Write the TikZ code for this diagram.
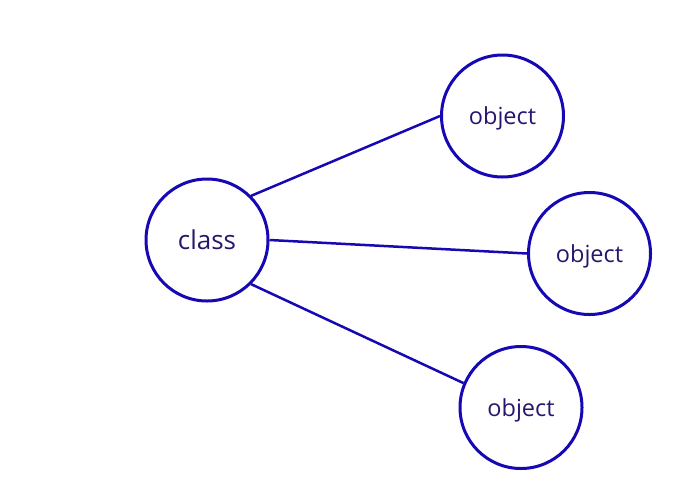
\documentclass[tikz,border=0pt]{standalone}
\usepackage{fontspec}
\setmainfont{Open Sans}
\definecolor{strokeblue}{RGB}{22,8,178}
\definecolor{textnavy}{RGB}{40,22,110}
\begin{document}
\begin{tikzpicture}[x=1pt,y=-1pt,
  bubble/.style={circle,draw=strokeblue,line width=3pt,minimum size=122pt,inner sep=0pt,text=textnavy,text depth=0pt},
  link/.style={draw=strokeblue,line width=2.5pt}]
\useasboundingbox (0,0) rectangle (684,493);
\node[bubble,font=\fontsize{26}{30}\selectfont] (cls) at (207,240) {class};
\node[bubble,font=\fontsize{23.5}{27}\selectfont] (o1) at (502.5,116) {object};
\node[bubble,font=\fontsize{23.5}{27}\selectfont] (o2) at (589.5,253.5) {object};
\node[bubble,font=\fontsize{23.5}{27}\selectfont] (o3) at (521,407.5) {object};
\draw[link] (cls.45) -- (o1.west);
\draw[link] (cls.east) -- (o2.west);
\draw[link] (cls.-45) -- (o3.157);
\end{tikzpicture}
\end{document}
